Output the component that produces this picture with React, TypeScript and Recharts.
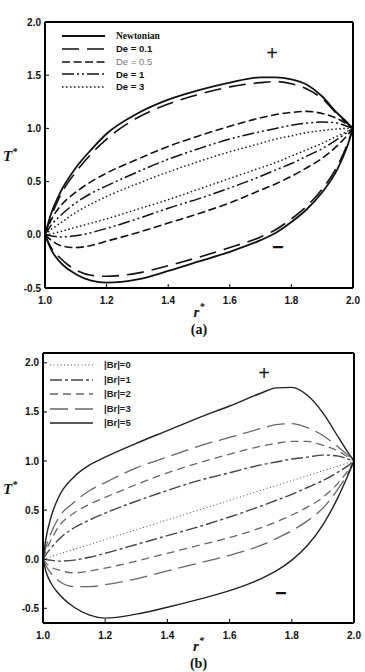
import React from "react";
import { LineChart, Line, XAxis, YAxis, Legend, ReferenceDot } from "recharts";

// panel (a): shared r* grid, upper/lower branch of each loop
const rA = [1, 1.02, 1.05, 1.1, 1.15, 1.2, 1.3, 1.4, 1.5, 1.6, 1.7, 1.75, 1.8, 1.85, 1.9, 1.95, 1.98, 2];
const newtonianUp = [0, 0.2, 0.4, 0.63, 0.8, 0.95, 1.14, 1.27, 1.36, 1.43, 1.48, 1.48, 1.46, 1.41, 1.3, 1.14, 1.06, 1];
const newtonianLo = [0, -0.14, -0.26, -0.37, -0.43, -0.45, -0.42, -0.34, -0.25, -0.16, -0.05, 0.02, 0.12, 0.24, 0.4, 0.62, 0.82, 1];
const de01Up = [0, 0.17, 0.37, 0.59, 0.76, 0.9, 1.1, 1.23, 1.32, 1.39, 1.43, 1.44, 1.42, 1.37, 1.28, 1.13, 1.05, 1];
const de01Lo = [0, -0.12, -0.22, -0.33, -0.38, -0.39, -0.36, -0.29, -0.21, -0.12, -0.02, 0.05, 0.15, 0.27, 0.43, 0.65, 0.84, 1];
const de05Up = [0, 0.14, 0.27, 0.4, 0.5, 0.58, 0.71, 0.83, 0.93, 1.02, 1.1, 1.13, 1.15, 1.16, 1.14, 1.09, 1.04, 1];
const de05Lo = [0, -0.05, -0.1, -0.12, -0.1, -0.06, 0.02, 0.11, 0.2, 0.3, 0.42, 0.48, 0.55, 0.63, 0.72, 0.84, 0.93, 1];
const de1Up = [0, 0.09, 0.18, 0.3, 0.39, 0.46, 0.59, 0.71, 0.81, 0.9, 0.97, 1.0, 1.03, 1.05, 1.06, 1.05, 1.02, 1];
const de1Lo = [0, -0.01, -0.02, -0.01, 0.02, 0.06, 0.15, 0.25, 0.34, 0.44, 0.55, 0.61, 0.67, 0.74, 0.81, 0.9, 0.96, 1];
const de3Up = [0, 0.05, 0.11, 0.21, 0.29, 0.36, 0.48, 0.59, 0.69, 0.78, 0.86, 0.9, 0.93, 0.96, 0.98, 0.995, 1.0, 1];
const de3Lo = [0, 0.01, 0.03, 0.07, 0.11, 0.15, 0.24, 0.33, 0.43, 0.53, 0.63, 0.68, 0.74, 0.8, 0.86, 0.93, 0.97, 1];

// panel (b)
const rB = [1, 1.01, 1.025, 1.05, 1.1, 1.15, 1.2, 1.3, 1.4, 1.5, 1.6, 1.7, 1.75, 1.8, 1.85, 1.9, 1.95, 1.98, 2];
const br5Up = [0, 0.22, 0.42, 0.63, 0.84, 0.96, 1.04, 1.18, 1.31, 1.44, 1.56, 1.69, 1.745, 1.75, 1.67, 1.49, 1.24, 1.09, 1];
const br5Lo = [0, -0.13, -0.24, -0.35, -0.49, -0.57, -0.6, -0.56, -0.49, -0.41, -0.32, -0.2, -0.12, -0.01, 0.14, 0.35, 0.64, 0.85, 1];
const br3Up = [0, 0.13, 0.26, 0.42, 0.58, 0.7, 0.78, 0.93, 1.04, 1.15, 1.24, 1.33, 1.37, 1.38, 1.34, 1.26, 1.14, 1.06, 1];
const br3Lo = [0, -0.07, -0.14, -0.22, -0.28, -0.28, -0.26, -0.2, -0.12, -0.04, 0.04, 0.14, 0.21, 0.29, 0.39, 0.52, 0.72, 0.87, 1];
const br2Up = [0, 0.09, 0.19, 0.33, 0.47, 0.56, 0.63, 0.76, 0.88, 0.98, 1.07, 1.15, 1.18, 1.2, 1.2, 1.16, 1.1, 1.04, 1];
const br2Lo = [0, -0.04, -0.08, -0.11, -0.14, -0.12, -0.09, -0.02, 0.06, 0.14, 0.22, 0.32, 0.38, 0.45, 0.53, 0.63, 0.78, 0.9, 1];
const br1Up = [0, 0.05, 0.11, 0.2, 0.32, 0.4, 0.47, 0.59, 0.7, 0.8, 0.88, 0.96, 0.99, 1.02, 1.04, 1.06, 1.05, 1.02, 1];
const br1Lo = [0, -0.005, -0.01, -0.02, -0.01, 0.02, 0.06, 0.15, 0.24, 0.33, 0.43, 0.54, 0.6, 0.66, 0.73, 0.8, 0.89, 0.95, 1];
const br0R = [1, 1.2, 1.4, 1.6, 1.8, 2];
const br0T = [0, 0.2, 0.4, 0.6, 0.8, 1];

const xTicks = [1, 1.2, 1.4, 1.6, 1.8, 2];
const yTicks = [-0.5, 0, 0.5, 1, 1.5, 2];
const labelsA = ["Newtonian", "De = 0.1", "De = 0.5", "De = 1", "De = 3"];
const labelsB = ["|Br|=0", "|Br|=1", "|Br|=2", "|Br|=3", "|Br|=5"];

const rows = (rs: number[], ts: number[]) => rs.map((r, i) => ({ r, T: ts[i] }));

const SANS = '"Liberation Sans", Arial, sans-serif';
const SERIF = '"Liberation Serif", "Times New Roman", serif';
const boldSans = { fontFamily: SANS, fontWeight: 700, fontSize: 9.5, color: "#111" };

type Style = { stroke: string; width: number; dash?: string };

const seriesA: { up: number[]; lo: number[]; s: Style; text: React.CSSProperties }[] = [
  { up: newtonianUp, lo: newtonianLo, s: { stroke: "#111", width: 1.8 }, text: { fontFamily: SERIF, fontWeight: 700, fontSize: 9.5, color: "#111" } },
  { up: de01Up, lo: de01Lo, s: { stroke: "#111", width: 1.6, dash: "17 8" }, text: boldSans },
  { up: de05Up, lo: de05Lo, s: { stroke: "#111", width: 1.6, dash: "8 3.5" }, text: { fontFamily: SANS, fontSize: 9.5, color: "#777" } },
  { up: de1Up, lo: de1Lo, s: { stroke: "#111", width: 1.5, dash: "12 3 2 3 2 3" }, text: boldSans },
  { up: de3Up, lo: de3Lo, s: { stroke: "#111", width: 1.4, dash: "1.5 2.5" }, text: boldSans },
];

const seriesB: { up: number[]; lo: number[]; s: Style }[] = [
  { up: br1Up, lo: br1Lo, s: { stroke: "#444", width: 1.4, dash: "12 3 3 3" } },
  { up: br2Up, lo: br2Lo, s: { stroke: "#666", width: 1.3, dash: "8 5" } },
  { up: br3Up, lo: br3Lo, s: { stroke: "#666", width: 1.3, dash: "18 7" } },
  { up: br5Up, lo: br5Lo, s: { stroke: "#222", width: 1.4 } },
];
const br0Style: Style = { stroke: "#444", width: 1, dash: "1 2.5" };
const legendB: Style[] = [br0Style, ...seriesB.map((d) => d.s)];

const fmt = (v: number) => v.toFixed(1);
const tickFont = { fontSize: 10, fontWeight: 700, fontFamily: SANS, fill: "#111" };

function LegendBox({ items, top, left, rowH, gap }: { items: { label: string; s: Style; text: React.CSSProperties }[]; top: number; left: number; rowH: number; gap: number }) {
  return (
    <div style={{ position: "absolute", top, left }}>
      {items.map((it) => (
        <div key={it.label} style={{ display: "flex", alignItems: "center", height: rowH }}>
          <svg width={43} height={6} style={{ display: "block" }}>
            <line x1={0} x2={43} y1={3} y2={3} stroke={it.s.stroke} strokeWidth={it.s.width} strokeDasharray={it.s.dash} />
          </svg>
          <span style={{ marginLeft: gap, lineHeight: 1, whiteSpace: "nowrap", ...it.text }}>{it.label}</span>
        </div>
      ))}
    </div>
  );
}

const axisLabelStyle = { fontFamily: SERIF, fontWeight: 700, fontStyle: "italic" as const, fontSize: 15, fill: "#111" };

const yLabel = (props: any) => {
  const vb = props.viewBox;
  return (
    <text x={3} y={vb.y + vb.height / 2 + 6} style={axisLabelStyle}>
      T<tspan dy={-6} fontSize={10}>*</tspan>
    </text>
  );
};

const xLabel = (caption: string, rOff: number, capOff: number) => (props: any) => {
  const vb = props.viewBox;
  const cx = vb.x + vb.width / 2;
  return (
    <g>
      <text x={cx} y={vb.y + rOff} textAnchor="middle" style={axisLabelStyle}>
        r<tspan dy={-7} fontSize={10}>*</tspan>
      </text>
      <text x={cx} y={vb.y + capOff} textAnchor="middle" style={{ fontFamily: SERIF, fontWeight: 700, fontSize: 14, fill: "#111" }}>
        {caption}
      </text>
    </g>
  );
};

function frame(yDomain: [number, number], yWidth: number, xHeight: number, label: any) {
  const line = { stroke: "#000", strokeWidth: 2 };
  const tl = { stroke: "#000", strokeWidth: 1 };
  return [
    <XAxis key="xb" dataKey="r" type="number" domain={[1, 2]} ticks={xTicks} allowDataOverflow interval={0} height={xHeight}
      axisLine={line} tickLine={tl} tickSize={-4} tickMargin={13} tick={tickFont} tickFormatter={fmt} label={label} />,
    <XAxis key="xt" xAxisId="top" orientation="top" type="number" domain={[1, 2]} ticks={xTicks} allowDataOverflow interval={0} height={1}
      axisLine={line} tickLine={tl} tickSize={-4} tick={false} />,
    <YAxis key="yl" type="number" domain={yDomain} ticks={yTicks} allowDataOverflow interval={0} width={yWidth}
      axisLine={line} tickLine={tl} tickSize={-4} tickMargin={8} tick={tickFont} tickFormatter={fmt} label={yLabel} />,
    <YAxis key="yr" yAxisId="right" orientation="right" type="number" domain={yDomain} ticks={yTicks} allowDataOverflow interval={0} width={1}
      axisLine={line} tickLine={tl} tickSize={-4} tick={false} />,
  ];
}

const signLabel = (v: string, bold: boolean) => ({ value: v, position: "center" as const, fontSize: 20, fontWeight: bold ? 700 : 400, fontFamily: SANS, fill: "#111" });

export default function App() {
  return (
    <div style={{ position: "absolute", left: 0, top: 0, width: 365, height: 672, background: "#fff" }}>
      <div style={{ position: "absolute", left: 0, top: 0 }}>
        <LineChart width={365} height={340} margin={{ top: 21, right: 11, bottom: 0, left: 0 }}>
          {frame([-0.5, 2], 45, 52, xLabel("(a)", 29, 46))}
          {seriesA.flatMap((d, i) => [
            <Line key={`au${i}`} data={rows(rA, d.up)} dataKey="T" type="monotone" dot={false} stroke={d.s.stroke} strokeWidth={d.s.width} strokeDasharray={d.s.dash} isAnimationActive={false} />,
            <Line key={`al${i}`} data={rows(rA, d.lo)} dataKey="T" type="monotone" dot={false} stroke={d.s.stroke} strokeWidth={d.s.width} strokeDasharray={d.s.dash} isAnimationActive={false} />,
          ])}
          <ReferenceDot x={1.737} y={1.709} r={0} fill="none" stroke="none" label={signLabel("+", false)} />
          <ReferenceDot x={1.756} y={-0.115} r={0} fill="none" stroke="none" label={signLabel("\u2212", true)} />
          <Legend layout="vertical" align="center" verticalAlign="middle" wrapperStyle={{ left: 0, top: 0, width: 0, height: 0 }}
            content={() => (
              <LegendBox top={30.2} left={62} rowH={12.6} gap={11}
                items={seriesA.map((d, i) => ({ label: labelsA[i], s: d.s, text: d.text }))} />
            )} />
        </LineChart>
      </div>
      <div style={{ position: "absolute", left: 0, top: 340 }}>
        <LineChart width={365} height={332} margin={{ top: 12, right: 10, bottom: 0, left: 0 }}>
          {frame([-0.65, 2.1], 43, 49, xLabel("(b)", 28, 45))}
          <Line data={rows(br0R, br0T)} dataKey="T" type="monotone" dot={false} stroke={br0Style.stroke} strokeWidth={br0Style.width} strokeDasharray={br0Style.dash} isAnimationActive={false} />
          {seriesB.flatMap((d, i) => [
            <Line key={`bu${i}`} data={rows(rB, d.up)} dataKey="T" type="monotone" dot={false} stroke={d.s.stroke} strokeWidth={d.s.width} strokeDasharray={d.s.dash} isAnimationActive={false} />,
            <Line key={`bl${i}`} data={rows(rB, d.lo)} dataKey="T" type="monotone" dot={false} stroke={d.s.stroke} strokeWidth={d.s.width} strokeDasharray={d.s.dash} isAnimationActive={false} />,
          ])}
          <ReferenceDot x={1.711} y={1.897} r={0} fill="none" stroke="none" label={signLabel("+", false)} />
          <ReferenceDot x={1.765} y={-0.344} r={0} fill="none" stroke="none" label={signLabel("\u2212", true)} />
          <Legend layout="vertical" align="center" verticalAlign="middle" wrapperStyle={{ left: 0, top: 0, width: 0, height: 0 }}
            content={() => (
              <LegendBox top={17.75} left={50} rowH={14.5} gap={11}
                items={labelsB.map((label, i) => ({ label, s: legendB[i], text: { ...boldSans, color: "#222" } }))} />
            )} />
        </LineChart>
      </div>
    </div>
  );
}
